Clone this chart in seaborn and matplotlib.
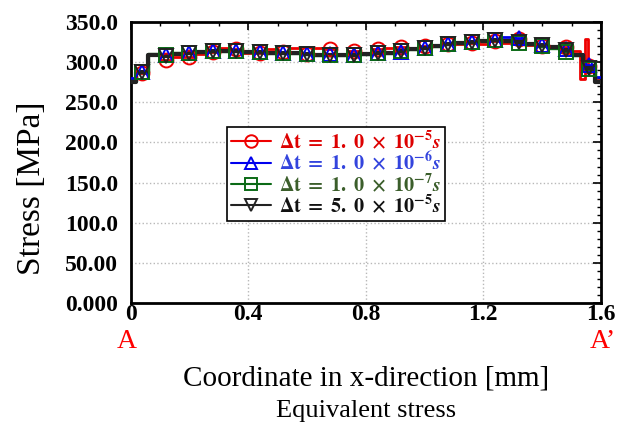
import numpy as np
import pandas as pd
import matplotlib
matplotlib.use("Agg")
import matplotlib.pyplot as plt
from matplotlib.lines import Line2D
from matplotlib.ticker import MultipleLocator, FixedLocator
import seaborn as sns

# ---------------- data ----------------
x_grid = [0.00, 0.04, 0.08, 0.12, 0.16, 0.20, 0.24, 0.28, 0.32, 0.36,
          0.40, 0.44, 0.48, 0.52, 0.56, 0.60, 0.64, 0.68, 0.72, 0.76,
          0.80, 0.84, 0.88, 0.92, 0.96, 1.00, 1.04, 1.08, 1.12, 1.16,
          1.20, 1.24, 1.28, 1.32, 1.36, 1.40, 1.44, 1.48, 1.52, 1.56, 1.60]

x_red = x_grid[:39] + [1.54, 1.553, 1.56, 1.60]
stress_red = [278, 286, 310, 303, 306, 307, 310, 313, 317, 316,
              312, 312, 316, 313, 317, 310, 317, 316, 309, 314,
              312, 316, 317, 319, 318, 320, 321, 322, 323, 324,
              322, 326, 324, 329, 321, 320, 318, 319, 314,
              279, 329, 295, 278]

stress_blue = [280, 288, 310, 309, 310, 312, 313, 314, 315, 314,
               313, 313, 312, 312, 311, 310, 310, 310, 309, 309,
               310, 311, 312, 313, 316, 318, 320, 322, 324, 325,
               326, 327, 331, 330, 323, 321, 319, 316, 310, 297, 281]

stress_green = [276, 288, 310, 309, 311, 312, 313, 314, 314, 314,
                313, 313, 312, 311, 311, 310, 309, 309, 309, 309,
                310, 311, 312, 314, 316, 318, 320, 322, 324, 325,
                326, 327, 326, 324, 322, 320, 318, 313, 309, 292, 276]

stress_black = [275, 288, 309, 308, 310, 311, 313, 314, 314, 314,
                313, 313, 312, 311, 311, 310, 309, 309, 309, 309,
                310, 311, 312, 314, 316, 318, 320, 322, 324, 325,
                326, 327, 326, 325, 323, 321, 319, 315, 309, 293, 275]

marker_x = [0.04, 0.12, 0.20, 0.28, 0.36, 0.44, 0.52, 0.60, 0.68, 0.76,
            0.84, 0.92, 1.00, 1.08, 1.16, 1.24, 1.32, 1.40, 1.48, 1.56]

series_labels = [r"$\mathbf{\Delta t\ =\ 1.\ 0\ \times\ 10^{-5}}\boldsymbol{s}$",
                 r"$\mathbf{\Delta t\ =\ 1.\ 0\ \times\ 10^{-6}}\boldsymbol{s}$",
                 r"$\mathbf{\Delta t\ =\ 1.\ 0\ \times\ 10^{-7}}\boldsymbol{s}$",
                 r"$\mathbf{\Delta t\ =\ 5.\ 0\ \times\ 10^{-5}}\boldsymbol{s}$"]

y_ticks = [0, 50, 100, 150, 200, 250, 300, 350]
y_tick_labels = ["0.000", "50.00", "100.0", "150.0", "200.0", "250.0", "300.0", "350.0"]
x_ticks = [0, 0.4, 0.8, 1.2, 1.6]
x_tick_labels = ["0", "0.4", "0.8", "1.2", "1.6"]

# ---------------- style ----------------
sns.set_theme(style="white")
plt.rcParams["font.family"] = ["Liberation Serif", "DejaVu Serif"]
plt.rcParams["mathtext.fontset"] = "stix"
plt.rcParams["text.color"] = "black"
plt.rcParams["xtick.color"] = "black"
plt.rcParams["ytick.color"] = "black"

fig = plt.figure(figsize=(6.17, 4.28), dpi=100)
ax = fig.add_axes([130.5 / 617, 1 - 303 / 428, (601 - 130.5) / 617, (303 - 22) / 428])

colors = ["#ee0000", "#0000ee", "#0b6a16", "#222222"]
text_colors = ["#dd0000", "#3344dd", "#3b5e2b", "#111111"]
markers = ["o", "^", "s", "v"]
lws = [2.0, 2.0, 2.4, 3.0]

series = [(x_red, stress_red), (x_grid, stress_blue),
          (x_grid, stress_green), (x_grid, stress_black)]

for i, (xs, ys) in enumerate(series):
    df = pd.DataFrame({"x": xs, "stress": ys})
    sns.lineplot(data=df, x="x", y="stress", ax=ax, color=colors[i],
                 lw=lws[i], drawstyle="steps-mid", estimator=None,
                 sort=False, zorder=2 + i)

for i, (xs, ys) in enumerate(series):
    lookup = dict(zip(xs, ys))
    mx = [m for m in marker_x if m in lookup]
    my = [lookup[m] for m in mx]
    ax.plot(mx, my, linestyle="none", marker=markers[i], ms=10,
            mfc="none", mec=colors[i], mew=1.4, zorder=10 + i)

ax.set_xlim(0, 1.6)
ax.set_ylim(0, 350)
ax.xaxis.set_major_locator(FixedLocator(x_ticks))
ax.yaxis.set_major_locator(FixedLocator(y_ticks))
ax.set_xticklabels(x_tick_labels)
ax.set_yticklabels(y_tick_labels)
ax.xaxis.set_minor_locator(MultipleLocator(0.1))
ax.yaxis.set_minor_locator(MultipleLocator(10))
ax.tick_params(which="both", direction="in", top=True, right=True,
               color="black", labelcolor="black")
ax.tick_params(which="major", length=6, width=1.2, labelsize=17)
ax.tick_params(which="minor", length=3, width=1.0)
for lab in ax.get_xticklabels() + ax.get_yticklabels():
    lab.set_fontweight("bold")
ax.tick_params(axis="x", pad=1)
ax.tick_params(axis="y", pad=9)
ax.grid(True, which="major", linestyle=":", color="#b8b8b8", lw=1.0)
for s in ax.spines.values():
    s.set_color("black")
    s.set_linewidth(2.0)
ax.set_xlabel("")
ax.set_ylabel("")

handles = [Line2D([], [], color=colors[i], lw=1.5, marker=markers[i], ms=9,
                  mfc="none", mec=colors[i], mew=1.4) for i in range(4)]
leg = ax.legend(handles, series_labels, loc="upper left",
                bbox_to_anchor=(0.205, 0.627), fontsize=14.5, frameon=True,
                fancybox=False, edgecolor="black", framealpha=1,
                handlelength=2.0, handletextpad=0.4, borderpad=0.2,
                labelspacing=-0.08, borderaxespad=0)
leg.get_frame().set_linewidth(1.2)
for t, c in zip(leg.get_texts(), text_colors):
    t.set_color(c)

fig.text(32 / 617, 1 - 188 / 428, "Stress [MPa]", rotation=90, fontsize=24,
         ha="center", va="center", color="black")
fig.text(127 / 617, 1 - 342 / 428, "A", fontsize=20, color="red",
         ha="center", va="center")
fig.text(603 / 617, 1 - 342 / 428, "A\u2019", fontsize=20, color="red",
         ha="center", va="center")
fig.text(366 / 617, 1 - 379 / 428, "Coordinate in x-direction [mm]",
         fontsize=21, ha="center", va="center", color="black")
fig.text(366 / 617, 1 - 411 / 428, "Equivalent stress",
         fontsize=19, ha="center", va="center", color="black")

fig.savefig("out.png", dpi=100, facecolor="white")
